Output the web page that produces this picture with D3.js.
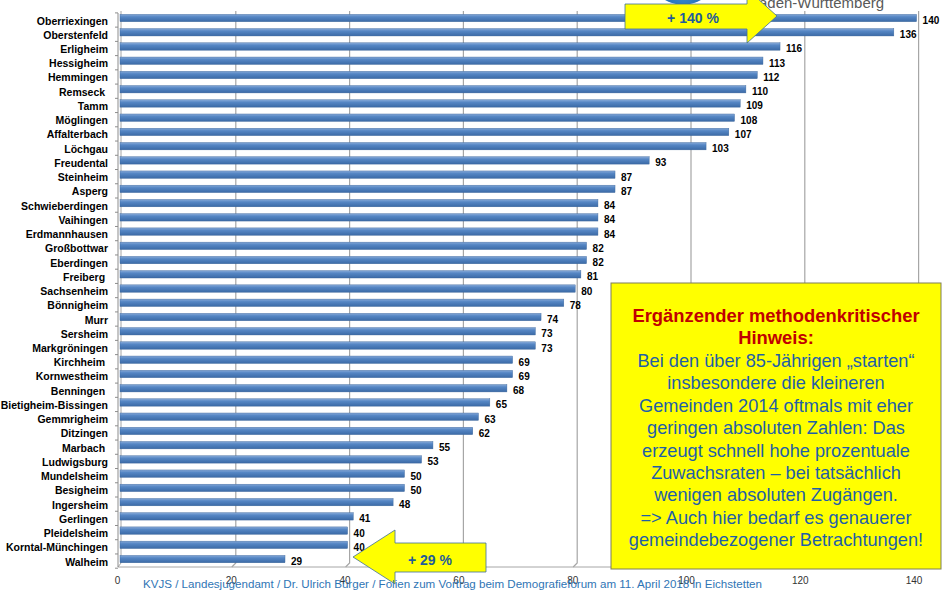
<!DOCTYPE html>
<html><head><meta charset="utf-8">
<script src="https://cdn.jsdelivr.net/npm/d3@7"></script>
<style>body{margin:0;background:#fff}svg{display:block;font-family:"Liberation Sans",Arial,sans-serif}</style>
</head><body><svg id="c" width="942" height="593"></svg>
<script>
const categories = ["Oberriexingen","Oberstenfeld","Erligheim","Hessigheim","Hemmingen","Remseck ","Tamm","Möglingen","Affalterbach","Löchgau","Freudental","Steinheim","Asperg","Schwieberdingen","Vaihingen","Erdmannhausen","Großbottwar","Eberdingen","Freiberg ","Sachsenheim","Bönnigheim","Murr","Sersheim","Markgröningen","Kirchheim ","Kornwestheim","Benningen ","Bietigheim-Bissingen","Gemmrigheim","Ditzingen","Marbach ","Ludwigsburg","Mundelsheim","Besigheim","Ingersheim","Gerlingen","Pleidelsheim","Korntal-Münchingen","Walheim"];
const values = [140,136,116,113,112,110,109,108,107,103,93,87,87,84,84,84,82,82,81,80,78,74,73,73,69,69,68,65,63,62,55,53,50,50,48,41,40,40,29];
const xTicks = [0,20,40,60,80,100,120,140];
const noteTitle = ["Ergänzender methodenkritischer","Hinweis:"];
const noteLines = ["Bei den über 85-Jährigen „starten“","insbesondere die kleineren","Gemeinden 2014 oftmals mit eher","geringen absoluten Zahlen: Das","erzeugt schnell hohe prozentuale","Zuwachsraten – bei tatsächlich","wenigen absoluten Zugängen.","=> Auch hier bedarf es genauerer","gemeindebezogener Betrachtungen!"];
const topArrowLabel = "+ 140 %";
const bottomArrowLabel = "+ 29 %";
const logoText = "Baden-Württemberg";
const footerText = "KVJS / Landesjugendamt / Dr. Ulrich Bürger / Folien zum Vortrag beim Demografieforum am 11. April 2018 in Eichstetten";

const svg = d3.select("#c");
const x = d3.scaleLinear().domain([0,140]).range([120, 916.6]);
const y = d3.scaleBand().domain(categories).range([10.9, 566.2]).paddingInner(0);
const step = y.step();

const defs = svg.append("defs");
const g1 = defs.append("linearGradient").attr("id","barg").attr("x1",0).attr("y1",0).attr("x2",0).attr("y2",1);
g1.append("stop").attr("offset","0%").attr("stop-color","#86A9D8");
g1.append("stop").attr("offset","35%").attr("stop-color","#5586C4");
g1.append("stop").attr("offset","100%").attr("stop-color","#3B6AA6");
const g2 = defs.append("radialGradient").attr("id","logog").attr("cx","50%").attr("cy","80%").attr("r","60%");
g2.append("stop").attr("offset","0%").attr("stop-color","#3C8AD0");
g2.append("stop").attr("offset","100%").attr("stop-color","#0F5AA5");

// grid lines (3D style)
const grid = svg.append("g");
xTicks.slice(1).forEach(v => {
  grid.append("path")
    .attr("d", `M${x(v)+2},11 L${x(v)+2},563 L${x(v)-2},567`)
    .attr("fill","none").attr("stroke","#A6A6A6").attr("stroke-width",1.2);
});
// floor / left axis
svg.append("path").attr("d",`M${x(0)-2},567 L${x(140)-2},567`).attr("stroke","#A6A6A6").attr("stroke-width",1);
svg.append("path").attr("d",`M${x(0)+1},11 L${x(0)+1},563 L${x(0)-2},567`).attr("fill","none").attr("stroke","#A6A6A6").attr("stroke-width",1);
svg.append("path").attr("d",`M${x(0)-2},13 L${x(0)-2},567`).attr("stroke","#8C8C8C").attr("stroke-width",1);
const bounds = d3.range(categories.length+1);
svg.append("g").selectAll("line").data(bounds).join("line")
  .attr("x1",x(0)-5).attr("x2",x(0)-2)
  .attr("y1",i=>10.9+i*step+2).attr("y2",i=>10.9+i*step+2)
  .attr("stroke","#8C8C8C");

// bars
const rows = categories.map((c,i)=>({c, v: values[i]}));
svg.append("g").selectAll("rect").data(rows).join("rect")
  .attr("x", x(0))
  .attr("y", d => y(d.c) + step*0.24)
  .attr("width", d => x(d.v) - x(0))
  .attr("height", step*0.52)
  .attr("fill","url(#barg)")
  .attr("stroke","#3A6499").attr("stroke-width",0.4);

// value labels
svg.append("g").selectAll("text").data(rows).join("text")
  .attr("x", d => x(d.v) + 6)
  .attr("y", d => y(d.c) + step/2 + 6)
  .attr("font-size","10px").attr("font-weight","bold").attr("fill","#000")
  .text(d => d.v);

// category labels
svg.append("g").selectAll("text").data(rows).join("text")
  .attr("x", 108)
  .attr("y", d => y(d.c) + step/2 + 6.5)
  .attr("text-anchor","end")
  .style("white-space","pre")
  .attr("font-size","10.5px").attr("font-weight","bold").attr("fill","#000")
  .text(d => d.c);

// x tick labels
svg.append("g").selectAll("text").data(xTicks).join("text")
  .attr("x", v => x(v) - 2.5)
  .attr("y", 584)
  .attr("text-anchor","middle")
  .attr("font-size","10px").attr("fill","#333")
  .text(v => v);

// logo fragment
svg.append("text").attr("x",749).attr("y",7.5).attr("font-size","15px").attr("fill","#595959").text(logoText);
svg.append("ellipse").attr("cx",683).attr("cy",-20).attr("rx",31).attr("ry",24.5).attr("fill","url(#logog)");

// top arrow
svg.append("path")
  .attr("d","M625,4 L747,4 L747,-11 L777,16 L747,43 L747,29 L625,29 Z")
  .attr("fill","#FFFF00").attr("stroke","#3F6E9C").attr("stroke-width",0.8);
svg.append("text").attr("x",693).attr("y",22.5).attr("text-anchor","middle")
  .attr("font-size","14px").attr("font-weight","bold").attr("fill","#1F5C99").text(topArrowLabel);

// bottom arrow
svg.append("path")
  .attr("d","M353,557 L395,530 L395,543 L486,543 L486,572 L395,572 L395,584 Z")
  .attr("fill","#FFFF00").attr("stroke","#3F6E9C").attr("stroke-width",0.8);
svg.append("text").attr("x",430).attr("y",564.5).attr("text-anchor","middle")
  .attr("font-size","14px").attr("font-weight","bold").attr("fill","#1F5C99").text(bottomArrowLabel);

// note box
svg.append("rect").attr("x",611).attr("y",283).attr("width",330).attr("height",286)
  .attr("fill","#FFFF00").attr("stroke","#7F7F5A").attr("stroke-width",1);
const cx = 776;
svg.append("g").selectAll("text").data(noteTitle).join("text")
  .attr("x",cx).attr("y",(d,i)=>322 + i*22.4)
  .attr("text-anchor","middle").attr("font-size","18.4px").attr("font-weight","bold").attr("fill","#C00000")
  .text(d=>d);
svg.append("g").selectAll("text").data(noteLines).join("text")
  .attr("x",cx).attr("y",(d,i)=>367 + i*22.4)
  .attr("text-anchor","middle").attr("font-size","18.2px").attr("fill","#1F5FA6")
  .text(d=>d);

// footer
svg.append("text").attr("x",143).attr("y",588).attr("font-size","11.5px").attr("fill","#2F75B5")
  .attr("textLength",619).attr("lengthAdjust","spacingAndGlyphs").text(footerText);
</script></body></html>
